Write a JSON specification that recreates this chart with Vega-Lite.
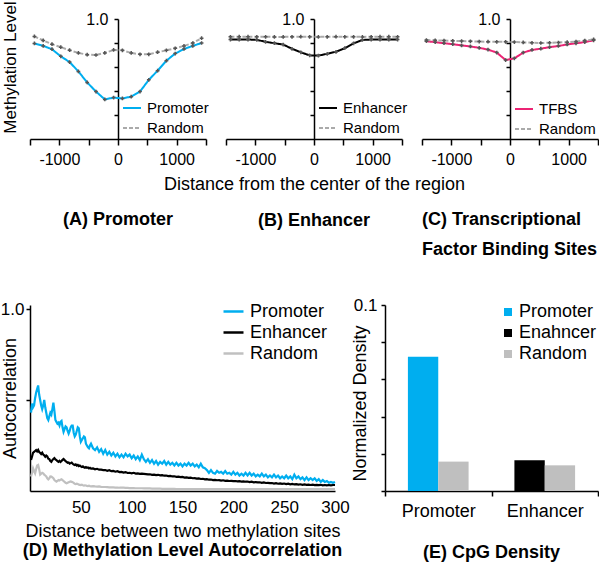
{
"$schema": "https://vega.github.io/schema/vega-lite/v6.json",
"padding": {"left": 0, "top": 0, "right": 0, "bottom": 0},
"config": {
  "font": "Liberation Sans",
  "view": {"stroke": null},
  "axis": {"domainColor": "black", "tickColor": "black", "labelColor": "black", "titleColor": "black", "grid": false, "titleFontWeight": "normal", "domainWidth": 1.5, "tickWidth": 1.5},
  "legend": {"labelColor": "black", "padding": 0},
  "title": {"color": "black"}
},
"resolve": {"scale": {"color": "independent", "strokeDash": "independent"}},
"spacing": 286,
"bounds": "flush",
"vconcat": [
{
  "hconcat": [
  {
    "width": 176, "height": 120,
    "title": {"text": "(A) Promoter", "orient": "bottom", "anchor": "middle", "frame": "group", "fontSize": 18, "fontWeight": "bold", "offset": 44},
    "data": {"values": [
      {"x": -1425, "v": 0.796, "s": "Promoter"}, {"x": -1275, "v": 0.776, "s": "Promoter"}, {"x": -1125, "v": 0.748, "s": "Promoter"}, {"x": -975, "v": 0.689, "s": "Promoter"}, {"x": -825, "v": 0.641, "s": "Promoter"}, {"x": -675, "v": 0.563, "s": "Promoter"}, {"x": -525, "v": 0.471, "s": "Promoter"}, {"x": -375, "v": 0.395, "s": "Promoter"}, {"x": -225, "v": 0.33, "s": "Promoter"}, {"x": -75, "v": 0.345, "s": "Promoter"}, {"x": 75, "v": 0.338, "s": "Promoter"}, {"x": 225, "v": 0.353, "s": "Promoter"}, {"x": 375, "v": 0.395, "s": "Promoter"}, {"x": 525, "v": 0.493, "s": "Promoter"}, {"x": 675, "v": 0.569, "s": "Promoter"}, {"x": 825, "v": 0.653, "s": "Promoter"}, {"x": 975, "v": 0.712, "s": "Promoter"}, {"x": 1125, "v": 0.75, "s": "Promoter"}, {"x": 1275, "v": 0.776, "s": "Promoter"}, {"x": 1425, "v": 0.8, "s": "Promoter"},
      {"x": -1425, "v": 0.855, "s": "Random"}, {"x": -1275, "v": 0.821, "s": "Random"}, {"x": -1125, "v": 0.79, "s": "Random"}, {"x": -975, "v": 0.765, "s": "Random"}, {"x": -825, "v": 0.74, "s": "Random"}, {"x": -675, "v": 0.717, "s": "Random"}, {"x": -525, "v": 0.703, "s": "Random"}, {"x": -375, "v": 0.7, "s": "Random"}, {"x": -225, "v": 0.717, "s": "Random"}, {"x": -75, "v": 0.742, "s": "Random"}, {"x": 75, "v": 0.739, "s": "Random"}, {"x": 225, "v": 0.717, "s": "Random"}, {"x": 375, "v": 0.706, "s": "Random"}, {"x": 525, "v": 0.706, "s": "Random"}, {"x": 675, "v": 0.723, "s": "Random"}, {"x": 825, "v": 0.739, "s": "Random"}, {"x": 975, "v": 0.756, "s": "Random"}, {"x": 1125, "v": 0.776, "s": "Random"}, {"x": 1275, "v": 0.8, "s": "Random"}, {"x": 1425, "v": 0.84, "s": "Random"}
    ]},
    "encoding": {
      "x": {"field": "x", "type": "quantitative", "scale": {"domain": [-1500, 1500], "nice": false},
            "axis": {"values": [-1500, -1000, -500, 0, 500, 1000, 1500], "labelExpr": "datum.value == -1000 ? '-1000' : datum.value == 0 ? '0' : datum.value == 1000 ? '1000' : ''", "tickSize": 6, "labelPadding": 6, "labelFontSize": 16, "labelFlush": false, "title": null}},
      "y": {"field": "v", "type": "quantitative", "scale": {"domain": [0, 1], "nice": false},
            "axis": {"orient": "left", "offset": -88, "values": [0.2, 0.4, 0.6, 0.8, 1], "labelExpr": "datum.value == 1 ? '1.0' : ''", "tickSize": 4, "labelPadding": 6, "labelFontSize": 16, "title": "Methylation Level", "titleFontSize": 17, "titleX": -107.5, "titleY": 48, "titleAngle": -90, "titleAlign": "center", "titleBaseline": "middle"}}
    },
    "layer": [
      {"mark": {"type": "line", "strokeWidth": 2},
       "encoding": {
         "color": {"field": "s", "type": "nominal", "scale": {"domain": ["Promoter", "Random"], "range": ["#00aeef", "#aaaaaa"]},
                   "legend": {"title": null, "orient": "none", "legendX": 92, "legendY": 79, "labelFontSize": 15, "symbolSize": 324, "symbolStrokeWidth": 2, "rowPadding": 2, "labelOffset": 5}},
         "strokeDash": {"field": "s", "type": "nominal", "scale": {"domain": ["Promoter", "Random"], "range": [[1, 0], [4, 2]]},
                   "legend": {"title": null, "orient": "none", "legendX": 92, "legendY": 79, "labelFontSize": 15, "symbolSize": 324, "symbolStrokeWidth": 2, "rowPadding": 2, "labelOffset": 5}}
       }},
      {"mark": {"type": "point", "shape": "cross", "filled": true, "size": 14, "color": "#555555", "opacity": 1}}
    ]
  },
  {
    "width": 176, "height": 120,
    "title": {"text": "(B) Enhancer", "orient": "bottom", "anchor": "middle", "frame": "group", "fontSize": 18, "fontWeight": "bold", "offset": 19},
    "data": {"values": [
      {"x": -1425, "v": 0.829, "s": "Enhancer"}, {"x": -1275, "v": 0.829, "s": "Enhancer"}, {"x": -1125, "v": 0.829, "s": "Enhancer"}, {"x": -975, "v": 0.826, "s": "Enhancer"}, {"x": -825, "v": 0.81, "s": "Enhancer"}, {"x": -675, "v": 0.798, "s": "Enhancer"}, {"x": -525, "v": 0.787, "s": "Enhancer"}, {"x": -375, "v": 0.752, "s": "Enhancer"}, {"x": -225, "v": 0.722, "s": "Enhancer"}, {"x": -75, "v": 0.697, "s": "Enhancer"}, {"x": 75, "v": 0.695, "s": "Enhancer"}, {"x": 225, "v": 0.71, "s": "Enhancer"}, {"x": 375, "v": 0.727, "s": "Enhancer"}, {"x": 525, "v": 0.757, "s": "Enhancer"}, {"x": 675, "v": 0.797, "s": "Enhancer"}, {"x": 825, "v": 0.825, "s": "Enhancer"}, {"x": 975, "v": 0.829, "s": "Enhancer"}, {"x": 1125, "v": 0.829, "s": "Enhancer"}, {"x": 1275, "v": 0.829, "s": "Enhancer"}, {"x": 1425, "v": 0.829, "s": "Enhancer"},
      {"x": -1425, "v": 0.852, "s": "Random"}, {"x": -1275, "v": 0.853, "s": "Random"}, {"x": -1125, "v": 0.853, "s": "Random"}, {"x": -975, "v": 0.852, "s": "Random"}, {"x": -825, "v": 0.852, "s": "Random"}, {"x": -675, "v": 0.851, "s": "Random"}, {"x": -525, "v": 0.851, "s": "Random"}, {"x": -375, "v": 0.852, "s": "Random"}, {"x": -225, "v": 0.853, "s": "Random"}, {"x": -75, "v": 0.852, "s": "Random"}, {"x": 75, "v": 0.851, "s": "Random"}, {"x": 225, "v": 0.852, "s": "Random"}, {"x": 375, "v": 0.853, "s": "Random"}, {"x": 525, "v": 0.852, "s": "Random"}, {"x": 675, "v": 0.852, "s": "Random"}, {"x": 825, "v": 0.851, "s": "Random"}, {"x": 975, "v": 0.852, "s": "Random"}, {"x": 1125, "v": 0.853, "s": "Random"}, {"x": 1275, "v": 0.853, "s": "Random"}, {"x": 1425, "v": 0.852, "s": "Random"}
    ]},
    "encoding": {
      "x": {"field": "x", "type": "quantitative", "scale": {"domain": [-1500, 1500], "nice": false},
            "axis": {"values": [-1500, -1000, -500, 0, 500, 1000, 1500], "labelExpr": "datum.value == -1000 ? '-1000' : datum.value == 0 ? '0' : datum.value == 1000 ? '1000' : ''", "tickSize": 6, "labelPadding": 6, "labelFontSize": 16, "labelFlush": false, "title": "Distance from the center of the region", "titleFontSize": 18, "titlePadding": 8}},
      "y": {"field": "v", "type": "quantitative", "scale": {"domain": [0, 1], "nice": false},
            "axis": {"orient": "left", "offset": -88, "values": [0.2, 0.4, 0.6, 0.8, 1], "labelExpr": "datum.value == 1 ? '1.0' : ''", "tickSize": 4, "labelPadding": 6, "labelFontSize": 16, "title": null}}
    },
    "layer": [
      {"mark": {"type": "line", "strokeWidth": 2},
       "encoding": {
         "color": {"field": "s", "type": "nominal", "scale": {"domain": ["Enhancer", "Random"], "range": ["#000000", "#aaaaaa"]},
                   "legend": {"title": null, "orient": "none", "legendX": 92, "legendY": 79, "labelFontSize": 15, "symbolSize": 324, "symbolStrokeWidth": 2, "rowPadding": 2, "labelOffset": 5}},
         "strokeDash": {"field": "s", "type": "nominal", "scale": {"domain": ["Enhancer", "Random"], "range": [[1, 0], [4, 2]]},
                   "legend": {"title": null, "orient": "none", "legendX": 92, "legendY": 79, "labelFontSize": 15, "symbolSize": 324, "symbolStrokeWidth": 2, "rowPadding": 2, "labelOffset": 5}}
       }},
      {"mark": {"type": "point", "shape": "cross", "filled": true, "size": 14, "color": "#555555", "opacity": 1}}
    ]
  },
  {
    "width": 176, "height": 120,
    "title": {"text": ["(C) Transcriptional", "Factor Binding Sites"], "orient": "bottom", "anchor": "start", "frame": "group", "fontSize": 18, "fontWeight": "bold", "offset": 44, "lineHeight": 30},
    "data": {"values": [
      {"x": -1425, "v": 0.815, "s": "TFBS"}, {"x": -1275, "v": 0.807, "s": "TFBS"}, {"x": -1125, "v": 0.798, "s": "TFBS"}, {"x": -975, "v": 0.79, "s": "TFBS"}, {"x": -825, "v": 0.78, "s": "TFBS"}, {"x": -675, "v": 0.771, "s": "TFBS"}, {"x": -525, "v": 0.76, "s": "TFBS"}, {"x": -375, "v": 0.745, "s": "TFBS"}, {"x": -225, "v": 0.72, "s": "TFBS"}, {"x": -75, "v": 0.658, "s": "TFBS"}, {"x": 75, "v": 0.672, "s": "TFBS"}, {"x": 225, "v": 0.72, "s": "TFBS"}, {"x": 375, "v": 0.742, "s": "TFBS"}, {"x": 525, "v": 0.753, "s": "TFBS"}, {"x": 675, "v": 0.765, "s": "TFBS"}, {"x": 825, "v": 0.775, "s": "TFBS"}, {"x": 975, "v": 0.788, "s": "TFBS"}, {"x": 1125, "v": 0.797, "s": "TFBS"}, {"x": 1275, "v": 0.808, "s": "TFBS"}, {"x": 1425, "v": 0.822, "s": "TFBS"},
      {"x": -1425, "v": 0.824, "s": "Random"}, {"x": -1275, "v": 0.822, "s": "Random"}, {"x": -1125, "v": 0.82, "s": "Random"}, {"x": -975, "v": 0.818, "s": "Random"}, {"x": -825, "v": 0.816, "s": "Random"}, {"x": -675, "v": 0.814, "s": "Random"}, {"x": -525, "v": 0.812, "s": "Random"}, {"x": -375, "v": 0.811, "s": "Random"}, {"x": -225, "v": 0.81, "s": "Random"}, {"x": -75, "v": 0.81, "s": "Random"}, {"x": 75, "v": 0.808, "s": "Random"}, {"x": 225, "v": 0.805, "s": "Random"}, {"x": 375, "v": 0.802, "s": "Random"}, {"x": 525, "v": 0.8, "s": "Random"}, {"x": 675, "v": 0.802, "s": "Random"}, {"x": 825, "v": 0.804, "s": "Random"}, {"x": 975, "v": 0.807, "s": "Random"}, {"x": 1125, "v": 0.812, "s": "Random"}, {"x": 1275, "v": 0.82, "s": "Random"}, {"x": 1425, "v": 0.83, "s": "Random"}
    ]},
    "encoding": {
      "x": {"field": "x", "type": "quantitative", "scale": {"domain": [-1500, 1500], "nice": false},
            "axis": {"values": [-1500, -1000, -500, 0, 500, 1000, 1500], "labelExpr": "datum.value == -1000 ? '-1000' : datum.value == 0 ? '0' : datum.value == 1000 ? '1000' : ''", "tickSize": 6, "labelPadding": 6, "labelFontSize": 16, "labelFlush": false, "title": null}},
      "y": {"field": "v", "type": "quantitative", "scale": {"domain": [0, 1], "nice": false},
            "axis": {"orient": "left", "offset": -88, "values": [0.2, 0.4, 0.6, 0.8, 1], "labelExpr": "datum.value == 1 ? '1.0' : ''", "tickSize": 4, "labelPadding": 6, "labelFontSize": 16, "title": null}}
    },
    "layer": [
      {"mark": {"type": "line", "strokeWidth": 2},
       "encoding": {
         "color": {"field": "s", "type": "nominal", "scale": {"domain": ["TFBS", "Random"], "range": ["#ec2474", "#aaaaaa"]},
                   "legend": {"title": null, "orient": "none", "legendX": 92, "legendY": 80, "labelFontSize": 15, "symbolSize": 324, "symbolStrokeWidth": 2, "rowPadding": 2, "labelOffset": 5}},
         "strokeDash": {"field": "s", "type": "nominal", "scale": {"domain": ["TFBS", "Random"], "range": [[1, 0], [4, 2]]},
                   "legend": {"title": null, "orient": "none", "legendX": 92, "legendY": 80, "labelFontSize": 15, "symbolSize": 324, "symbolStrokeWidth": 2, "rowPadding": 2, "labelOffset": 5}}
       }},
      {"mark": {"type": "point", "shape": "cross", "filled": true, "size": 14, "color": "#555555", "opacity": 1}}
    ]
  }
  ],
  "spacing": 20,
  "bounds": "flush",
  "resolve": {"scale": {"color": "independent", "strokeDash": "independent"}}
},
{
  "hconcat": [
  {
    "width": 305, "height": 186,
    "title": {"text": "(D) Methylation Level Autocorrelation", "orient": "bottom", "anchor": "middle", "frame": "group", "fontSize": 18, "fontWeight": "bold", "offset": 2},
    "data": {"values": [
      {"d":1,"Promoter":0.43,"Enhancer":0.17,"Random":0.08},{"d":2,"Promoter":0.48,"Enhancer":0.19,"Random":0.1},{"d":3,"Promoter":0.46,"Enhancer":0.21,"Random":0.125},{"d":4,"Promoter":0.47,"Enhancer":0.215,"Random":0.11},{"d":5,"Promoter":0.51,"Enhancer":0.22,"Random":0.097},
      {"d":6,"Promoter":0.54,"Enhancer":0.225,"Random":0.12},{"d":7,"Promoter":0.56,"Enhancer":0.218,"Random":0.14},{"d":8,"Promoter":0.58,"Enhancer":0.226,"Random":0.143},{"d":9,"Promoter":0.53,"Enhancer":0.214,"Random":0.12},{"d":10,"Promoter":0.5,"Enhancer":0.21,"Random":0.09},
      {"d":11,"Promoter":0.47,"Enhancer":0.203,"Random":0.095},{"d":12,"Promoter":0.45,"Enhancer":0.21,"Random":0.1},{"d":13,"Promoter":0.47,"Enhancer":0.2,"Random":0.097},{"d":14,"Promoter":0.5,"Enhancer":0.196,"Random":0.09},{"d":15,"Promoter":0.46,"Enhancer":0.188,"Random":0.085},
      {"d":16,"Promoter":0.43,"Enhancer":0.195,"Random":0.08},{"d":17,"Promoter":0.4,"Enhancer":0.19,"Random":0.07},{"d":18,"Promoter":0.39,"Enhancer":0.178,"Random":0.064},{"d":19,"Promoter":0.41,"Enhancer":0.175,"Random":0.07},{"d":20,"Promoter":0.43,"Enhancer":0.165,"Random":0.08},
      {"d":21,"Promoter":0.42,"Enhancer":0.16,"Random":0.079},{"d":22,"Promoter":0.45,"Enhancer":0.17,"Random":0.075},{"d":23,"Promoter":0.485,"Enhancer":0.176,"Random":0.07},{"d":24,"Promoter":0.44,"Enhancer":0.181,"Random":0.06},{"d":25,"Promoter":0.39,"Enhancer":0.174,"Random":0.055},
      {"d":26,"Promoter":0.38,"Enhancer":0.17,"Random":0.051},{"d":27,"Promoter":0.37,"Enhancer":0.164,"Random":0.055},{"d":28,"Promoter":0.375,"Enhancer":0.16,"Random":0.06},{"d":29,"Promoter":0.36,"Enhancer":0.166,"Random":0.058},{"d":30,"Promoter":0.38,"Enhancer":0.16,"Random":0.062},
      {"d":31,"Promoter":0.385,"Enhancer":0.165,"Random":0.064},{"d":32,"Promoter":0.35,"Enhancer":0.171,"Random":0.06},{"d":33,"Promoter":0.325,"Enhancer":0.176,"Random":0.055},{"d":34,"Promoter":0.34,"Enhancer":0.17,"Random":0.05},{"d":35,"Promoter":0.355,"Enhancer":0.164,"Random":0.045},
      {"d":36,"Promoter":0.35,"Enhancer":0.16,"Random":0.042},{"d":37,"Promoter":0.33,"Enhancer":0.155,"Random":0.045},{"d":38,"Promoter":0.315,"Enhancer":0.157,"Random":0.048},{"d":39,"Promoter":0.33,"Enhancer":0.15,"Random":0.05},{"d":40,"Promoter":0.35,"Enhancer":0.153,"Random":0.052},
      {"d":41,"Promoter":0.36,"Enhancer":0.156,"Random":0.05},{"d":42,"Promoter":0.36,"Enhancer":0.15,"Random":0.048},{"d":43,"Promoter":0.32,"Enhancer":0.145,"Random":0.045},{"d":44,"Promoter":0.3,"Enhancer":0.143,"Random":0.04},{"d":45,"Promoter":0.31,"Enhancer":0.146,"Random":0.038},
      {"d":46,"Promoter":0.33,"Enhancer":0.14,"Random":0.04},{"d":47,"Promoter":0.35,"Enhancer":0.143,"Random":0.038},{"d":48,"Promoter":0.345,"Enhancer":0.137,"Random":0.035},{"d":49,"Promoter":0.3,"Enhancer":0.14,"Random":0.034},{"d":50,"Promoter":0.27,"Enhancer":0.135,"Random":0.033},
      {"d":51,"Promoter":0.28,"Enhancer":0.132,"Random":0.035},{"d":52,"Promoter":0.29,"Enhancer":0.135,"Random":0.032},{"d":53,"Promoter":0.3,"Enhancer":0.13,"Random":0.03},{"d":54,"Promoter":0.295,"Enhancer":0.128,"Random":0.031},{"d":55,"Promoter":0.26,"Enhancer":0.131,"Random":0.03},
      {"d":56,"Promoter":0.25,"Enhancer":0.127,"Random":0.028},{"d":57,"Promoter":0.24,"Enhancer":0.129,"Random":0.027},{"d":58,"Promoter":0.235,"Enhancer":0.124,"Random":0.029},{"d":59,"Promoter":0.25,"Enhancer":0.127,"Random":0.027},{"d":60,"Promoter":0.26,"Enhancer":0.123,"Random":0.026},
      {"d":62,"Promoter":0.235,"Enhancer":0.124,"Random":0.027},{"d":64,"Promoter":0.225,"Enhancer":0.119,"Random":0.025},{"d":66,"Promoter":0.24,"Enhancer":0.122,"Random":0.024},{"d":68,"Promoter":0.215,"Enhancer":0.117,"Random":0.025},{"d":70,"Promoter":0.23,"Enhancer":0.117,"Random":0.023},
      {"d":72,"Promoter":0.205,"Enhancer":0.115,"Random":0.022},{"d":74,"Promoter":0.225,"Enhancer":0.115,"Random":0.022},{"d":76,"Promoter":0.2,"Enhancer":0.111,"Random":0.021},{"d":78,"Promoter":0.215,"Enhancer":0.114,"Random":0.02},{"d":80,"Promoter":0.195,"Enhancer":0.109,"Random":0.02},
      {"d":82,"Promoter":0.21,"Enhancer":0.11,"Random":0.02},{"d":84,"Promoter":0.19,"Enhancer":0.106,"Random":0.019},{"d":86,"Promoter":0.205,"Enhancer":0.109,"Random":0.019},{"d":88,"Promoter":0.185,"Enhancer":0.104,"Random":0.018},{"d":90,"Promoter":0.2,"Enhancer":0.105,"Random":0.018},
      {"d":92,"Promoter":0.185,"Enhancer":0.101,"Random":0.018},{"d":94,"Promoter":0.205,"Enhancer":0.104,"Random":0.017},{"d":96,"Promoter":0.19,"Enhancer":0.099,"Random":0.017},{"d":98,"Promoter":0.2,"Enhancer":0.1,"Random":0.016},{"d":100,"Promoter":0.18,"Enhancer":0.097,"Random":0.016},
      {"d":102,"Promoter":0.195,"Enhancer":0.1,"Random":0.016},{"d":104,"Promoter":0.175,"Enhancer":0.096,"Random":0.015},{"d":106,"Promoter":0.19,"Enhancer":0.097,"Random":0.015},{"d":108,"Promoter":0.17,"Enhancer":0.094,"Random":0.015},{"d":110,"Promoter":0.2,"Enhancer":0.095,"Random":0.015},
      {"d":112,"Promoter":0.175,"Enhancer":0.094,"Random":0.014},{"d":114,"Promoter":0.16,"Enhancer":0.093,"Random":0.014},{"d":116,"Promoter":0.175,"Enhancer":0.091,"Random":0.014},{"d":118,"Promoter":0.155,"Enhancer":0.092,"Random":0.014},{"d":120,"Promoter":0.17,"Enhancer":0.089,"Random":0.013},
      {"d":122,"Promoter":0.15,"Enhancer":0.09,"Random":0.013},{"d":124,"Promoter":0.165,"Enhancer":0.087,"Random":0.013},{"d":126,"Promoter":0.145,"Enhancer":0.089,"Random":0.013},{"d":128,"Promoter":0.16,"Enhancer":0.086,"Random":0.013},{"d":130,"Promoter":0.15,"Enhancer":0.087,"Random":0.012},
      {"d":132,"Promoter":0.165,"Enhancer":0.084,"Random":0.012},{"d":134,"Promoter":0.145,"Enhancer":0.085,"Random":0.012},{"d":136,"Promoter":0.16,"Enhancer":0.082,"Random":0.012},{"d":138,"Promoter":0.145,"Enhancer":0.083,"Random":0.012},{"d":140,"Promoter":0.155,"Enhancer":0.08,"Random":0.012},
      {"d":142,"Promoter":0.14,"Enhancer":0.081,"Random":0.012},{"d":144,"Promoter":0.155,"Enhancer":0.078,"Random":0.011},{"d":146,"Promoter":0.14,"Enhancer":0.079,"Random":0.011},{"d":148,"Promoter":0.15,"Enhancer":0.076,"Random":0.011},{"d":150,"Promoter":0.135,"Enhancer":0.077,"Random":0.011},
      {"d":152,"Promoter":0.15,"Enhancer":0.074,"Random":0.011},{"d":154,"Promoter":0.14,"Enhancer":0.075,"Random":0.011},{"d":156,"Promoter":0.155,"Enhancer":0.072,"Random":0.011},{"d":158,"Promoter":0.14,"Enhancer":0.073,"Random":0.011},{"d":160,"Promoter":0.15,"Enhancer":0.07,"Random":0.011},
      {"d":162,"Promoter":0.135,"Enhancer":0.071,"Random":0.01},{"d":164,"Promoter":0.145,"Enhancer":0.068,"Random":0.01},{"d":166,"Promoter":0.13,"Enhancer":0.069,"Random":0.01},{"d":168,"Promoter":0.15,"Enhancer":0.066,"Random":0.01},{"d":170,"Promoter":0.13,"Enhancer":0.067,"Random":0.01},
      {"d":172,"Promoter":0.125,"Enhancer":0.064,"Random":0.01},{"d":174,"Promoter":0.115,"Enhancer":0.065,"Random":0.01},{"d":176,"Promoter":0.1,"Enhancer":0.062,"Random":0.01},{"d":178,"Promoter":0.115,"Enhancer":0.063,"Random":0.01},{"d":180,"Promoter":0.1,"Enhancer":0.06,"Random":0.01},
      {"d":182,"Promoter":0.095,"Enhancer":0.061,"Random":0.01},{"d":184,"Promoter":0.11,"Enhancer":0.059,"Random":0.01},{"d":186,"Promoter":0.1,"Enhancer":0.06,"Random":0.01},{"d":188,"Promoter":0.105,"Enhancer":0.057,"Random":0.01},{"d":190,"Promoter":0.095,"Enhancer":0.059,"Random":0.01},
      {"d":192,"Promoter":0.11,"Enhancer":0.056,"Random":0.01},{"d":194,"Promoter":0.095,"Enhancer":0.057,"Random":0.01},{"d":196,"Promoter":0.1,"Enhancer":0.055,"Random":0.01},{"d":198,"Promoter":0.09,"Enhancer":0.056,"Random":0.01},{"d":200,"Promoter":0.105,"Enhancer":0.054,"Random":0.01},
      {"d":202,"Promoter":0.09,"Enhancer":0.055,"Random":0.01},{"d":204,"Promoter":0.1,"Enhancer":0.053,"Random":0.01},{"d":206,"Promoter":0.085,"Enhancer":0.054,"Random":0.01},{"d":208,"Promoter":0.095,"Enhancer":0.052,"Random":0.01},{"d":210,"Promoter":0.085,"Enhancer":0.053,"Random":0.01},
      {"d":212,"Promoter":0.1,"Enhancer":0.051,"Random":0.01},{"d":214,"Promoter":0.085,"Enhancer":0.052,"Random":0.01},{"d":216,"Promoter":0.1,"Enhancer":0.049,"Random":0.01},{"d":218,"Promoter":0.085,"Enhancer":0.051,"Random":0.01},{"d":220,"Promoter":0.095,"Enhancer":0.048,"Random":0.01},
      {"d":222,"Promoter":0.08,"Enhancer":0.049,"Random":0.01},{"d":224,"Promoter":0.09,"Enhancer":0.047,"Random":0.01},{"d":226,"Promoter":0.08,"Enhancer":0.048,"Random":0.01},{"d":228,"Promoter":0.095,"Enhancer":0.045,"Random":0.01},{"d":230,"Promoter":0.08,"Enhancer":0.047,"Random":0.01},
      {"d":232,"Promoter":0.09,"Enhancer":0.044,"Random":0.01},{"d":234,"Promoter":0.075,"Enhancer":0.045,"Random":0.01},{"d":236,"Promoter":0.085,"Enhancer":0.043,"Random":0.01},{"d":238,"Promoter":0.075,"Enhancer":0.044,"Random":0.01},{"d":240,"Promoter":0.09,"Enhancer":0.041,"Random":0.01},
      {"d":242,"Promoter":0.075,"Enhancer":0.043,"Random":0.01},{"d":244,"Promoter":0.085,"Enhancer":0.04,"Random":0.01},{"d":246,"Promoter":0.07,"Enhancer":0.042,"Random":0.01},{"d":248,"Promoter":0.08,"Enhancer":0.039,"Random":0.01},{"d":250,"Promoter":0.07,"Enhancer":0.041,"Random":0.01},
      {"d":252,"Promoter":0.085,"Enhancer":0.038,"Random":0.01},{"d":254,"Promoter":0.07,"Enhancer":0.04,"Random":0.01},{"d":256,"Promoter":0.08,"Enhancer":0.037,"Random":0.01},{"d":258,"Promoter":0.065,"Enhancer":0.039,"Random":0.01},{"d":260,"Promoter":0.09,"Enhancer":0.036,"Random":0.01},
      {"d":262,"Promoter":0.07,"Enhancer":0.038,"Random":0.01},{"d":264,"Promoter":0.08,"Enhancer":0.035,"Random":0.01},{"d":266,"Promoter":0.065,"Enhancer":0.037,"Random":0.01},{"d":268,"Promoter":0.075,"Enhancer":0.034,"Random":0.01},{"d":270,"Promoter":0.06,"Enhancer":0.036,"Random":0.01},
      {"d":272,"Promoter":0.075,"Enhancer":0.034,"Random":0.01},{"d":274,"Promoter":0.06,"Enhancer":0.035,"Random":0.01},{"d":276,"Promoter":0.07,"Enhancer":0.033,"Random":0.01},{"d":278,"Promoter":0.06,"Enhancer":0.035,"Random":0.01},{"d":280,"Promoter":0.07,"Enhancer":0.032,"Random":0.01},
      {"d":282,"Promoter":0.055,"Enhancer":0.034,"Random":0.01},{"d":284,"Promoter":0.065,"Enhancer":0.032,"Random":0.01},{"d":286,"Promoter":0.05,"Enhancer":0.034,"Random":0.01},{"d":288,"Promoter":0.06,"Enhancer":0.031,"Random":0.01},{"d":290,"Promoter":0.05,"Enhancer":0.033,"Random":0.01},
      {"d":292,"Promoter":0.055,"Enhancer":0.031,"Random":0.01},{"d":294,"Promoter":0.045,"Enhancer":0.033,"Random":0.01},{"d":296,"Promoter":0.05,"Enhancer":0.031,"Random":0.01},{"d":298,"Promoter":0.045,"Enhancer":0.033,"Random":0.01},{"d":300,"Promoter":0.05,"Enhancer":0.033,"Random":0.01}
    ]},
    "transform": [{"fold": ["Promoter", "Enhancer", "Random"], "as": ["series", "value"]}],
    "mark": {"type": "line", "strokeWidth": 2.2},
    "encoding": {
      "x": {"field": "d", "type": "quantitative", "scale": {"domain": [0, 300], "nice": false},
            "axis": {"values": [50, 100, 150, 200, 250, 300], "format": "d", "ticks": false, "labelPadding": 8, "labelFontSize": 17, "labelFlush": false, "title": "Distance between two methylation sites", "titleFontSize": 18, "titlePadding": 7}},
      "y": {"field": "value", "type": "quantitative", "scale": {"domain": [0, 1.022], "nice": false},
            "axis": {"values": [0.5, 1], "labelExpr": "datum.value == 1 ? '1.0' : ''", "tickSize": 4, "labelPadding": 2, "labelFontSize": 17, "title": "Autocorrelation", "titleFontSize": 18, "titleX": -19.5, "titleY": 93, "titleAngle": -90, "titleAlign": "center", "titleBaseline": "middle"}},
      "color": {"field": "series", "type": "nominal", "scale": {"domain": ["Promoter", "Enhancer", "Random"], "range": ["#00aeef", "#000000", "#c0c0c0"]},
                "legend": {"title": null, "orient": "none", "legendX": 192, "legendY": -5, "labelFontSize": 18, "symbolSize": 400, "symbolStrokeWidth": 2.5, "rowPadding": 0, "labelOffset": 5}}
    }
  },
  {
    "width": 213, "height": 186,
    "title": {"text": "(E) CpG Density", "orient": "bottom", "anchor": "middle", "frame": "group", "fontSize": 18, "fontWeight": "bold", "offset": 24},
    "data": {"values": [
      {"cat": "Promoter", "grp": "Promoter", "kind": "Region", "val": 0.0722},
      {"cat": "Promoter", "grp": "Random", "kind": "Random", "val": 0.0158},
      {"cat": "Enhancer", "grp": "Enahncer", "kind": "Region", "val": 0.0165},
      {"cat": "Enhancer", "grp": "Random", "kind": "Random", "val": 0.0138}
    ]},
    "mark": {"type": "bar"},
    "encoding": {
      "x": {"field": "cat", "type": "nominal", "sort": ["Promoter", "Enhancer"], "scale": {"paddingInner": 0, "paddingOuter": 0},
            "axis": {"title": null, "labelAngle": 0, "tickBand": "extent", "tickSize": 5, "labelPadding": 6, "labelFontSize": 18}},
      "xOffset": {"field": "kind", "type": "nominal", "sort": ["Region", "Random"], "scale": {"paddingInner": 0, "paddingOuter": 0.755}},
      "y": {"field": "val", "type": "quantitative", "scale": {"domain": [0, 0.1], "nice": false},
            "axis": {"values": [0, 0.02, 0.04, 0.06, 0.08, 0.1], "labelExpr": "datum.value == 0.1 ? '0.1' : ''", "tickSize": 4, "labelPadding": 4, "labelFontSize": 17, "title": "Normalized Density", "titleFontSize": 18, "titleX": -25, "titleY": 98, "titleAngle": -90, "titleAlign": "center", "titleBaseline": "middle"}},
      "color": {"field": "grp", "type": "nominal", "scale": {"domain": ["Promoter", "Enahncer", "Random"], "range": ["#00aeef", "#000000", "#bfbfbf"]},
                "legend": {"title": null, "orient": "none", "legendX": 114, "legendY": -2, "labelFontSize": 18, "symbolType": "square", "symbolSize": 64, "symbolStrokeWidth": 0, "rowPadding": 3, "labelOffset": 2}}
    }
  }
  ],
  "spacing": 50,
  "bounds": "flush",
  "resolve": {"scale": {"color": "independent", "strokeDash": "independent"}}
}
]
}
